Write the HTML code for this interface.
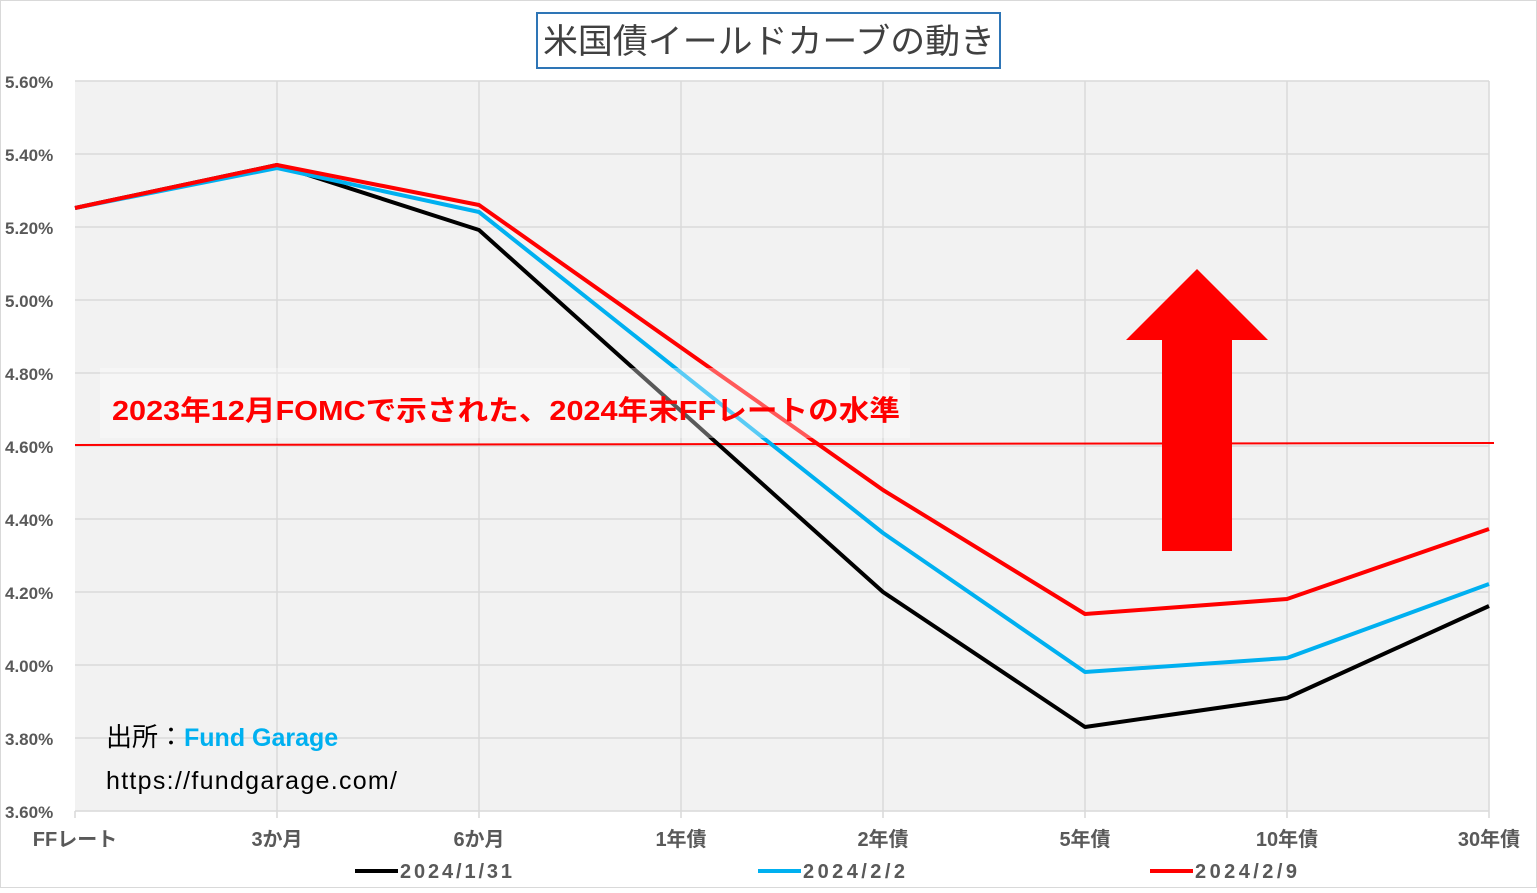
<!DOCTYPE html>
<html><head><meta charset="utf-8"><style>
body{margin:0;background:#fff;}
svg text{font-family:"Liberation Sans","Noto Sans CJK JP",sans-serif;}
</style></head><body>
<svg width="1537" height="888" xmlns="http://www.w3.org/2000/svg">
<rect x="0.5" y="0.5" width="1536" height="887" fill="#fff" stroke="#d9d9d9"/>
<rect x="75" y="81" width="1414" height="730" fill="#f2f2f2"/>
<g stroke="#d9d9d9" stroke-width="1.5">
<line x1="75" y1="81" x2="1489" y2="81"/><line x1="75" y1="154" x2="1489" y2="154"/><line x1="75" y1="227" x2="1489" y2="227"/><line x1="75" y1="300" x2="1489" y2="300"/><line x1="75" y1="373" x2="1489" y2="373"/><line x1="75" y1="446" x2="1489" y2="446"/><line x1="75" y1="519" x2="1489" y2="519"/><line x1="75" y1="592" x2="1489" y2="592"/><line x1="75" y1="665" x2="1489" y2="665"/><line x1="75" y1="738" x2="1489" y2="738"/><line x1="75" y1="811" x2="1489" y2="811"/>
<line x1="277" y1="81" x2="277" y2="818"/><line x1="479" y1="81" x2="479" y2="818"/><line x1="681" y1="81" x2="681" y2="818"/><line x1="883" y1="81" x2="883" y2="818"/><line x1="1085" y1="81" x2="1085" y2="818"/><line x1="1287" y1="81" x2="1287" y2="818"/><line x1="1489" y1="81" x2="1489" y2="818"/><line x1="75" y1="811" x2="75" y2="818"/>
</g>
<g font-size="17" font-weight="bold" fill="#595959">
<text x="5" y="88">5.60%</text><text x="5" y="161">5.40%</text><text x="5" y="234">5.20%</text><text x="5" y="307">5.00%</text><text x="5" y="380">4.80%</text><text x="5" y="453">4.60%</text><text x="5" y="526">4.40%</text><text x="5" y="599">4.20%</text><text x="5" y="672">4.00%</text><text x="5" y="745">3.80%</text><text x="5" y="818">3.60%</text>
</g>
<g font-size="20" font-weight="bold" fill="#595959" text-anchor="middle">
<text x="75" y="846">FFレート</text><text x="277" y="846">3か月</text><text x="479" y="846">6か月</text><text x="681" y="846">1年債</text><text x="883" y="846">2年債</text><text x="1085" y="846">5年債</text><text x="1287" y="846">10年債</text><text x="1489" y="846">30年債</text>
</g>
<line x1="75" y1="445" x2="1494" y2="443" stroke="#f00" stroke-width="2"/>
<g fill="none" stroke-width="4" stroke-linejoin="round">
<polyline stroke="#000" points="75,208 277,165 479,230 883,592 1085,727 1287,698 1489,606"/>
<polyline stroke="#00b0f0" points="75,208 277,168 479,212 883,533 1085,672 1287,658 1489,584"/>
<polyline stroke="#f00" points="75,208 277,165 479,205 883,490 1085,614 1287,599 1489,529"/>
</g>
<rect x="100" y="368" width="810" height="70" fill="#fff" fill-opacity="0.35"/>
<text x="112" y="420" font-size="28" font-weight="bold" fill="#f00" textLength="788" lengthAdjust="spacingAndGlyphs">2023年12月FOMCで示された、2024年末FFレートの水準</text>
<polygon points="1197,269 1268,340 1232,340 1232,551 1162,551 1162,340 1126,340" fill="#f00"/>
<rect x="537" y="13" width="463" height="55" fill="#fff" stroke="#2e75b6" stroke-width="2"/>
<text x="543" y="53" font-size="34" fill="#404040" textLength="452" lengthAdjust="spacingAndGlyphs">米国債イールドカーブの動き</text>
<text x="106" y="746" font-size="26" fill="#000">出所：<tspan fill="#00b0f0" font-weight="bold" font-size="25">Fund Garage</tspan></text>
<text x="106" y="789" font-size="25" fill="#000" textLength="291">https://fundgarage.com/</text>
<g font-size="20" font-weight="bold" fill="#595959">
<line x1="355" y1="871" x2="398" y2="871" stroke="#000" stroke-width="4"/><text x="400" y="878" textLength="112">2024/1/31</text>
<line x1="758" y1="871" x2="801" y2="871" stroke="#00b0f0" stroke-width="4"/><text x="803" y="878" textLength="102">2024/2/2</text>
<line x1="1150" y1="871" x2="1193" y2="871" stroke="#f00" stroke-width="4"/><text x="1195" y="878" textLength="102">2024/2/9</text>
</g>
</svg>
</body></html>
